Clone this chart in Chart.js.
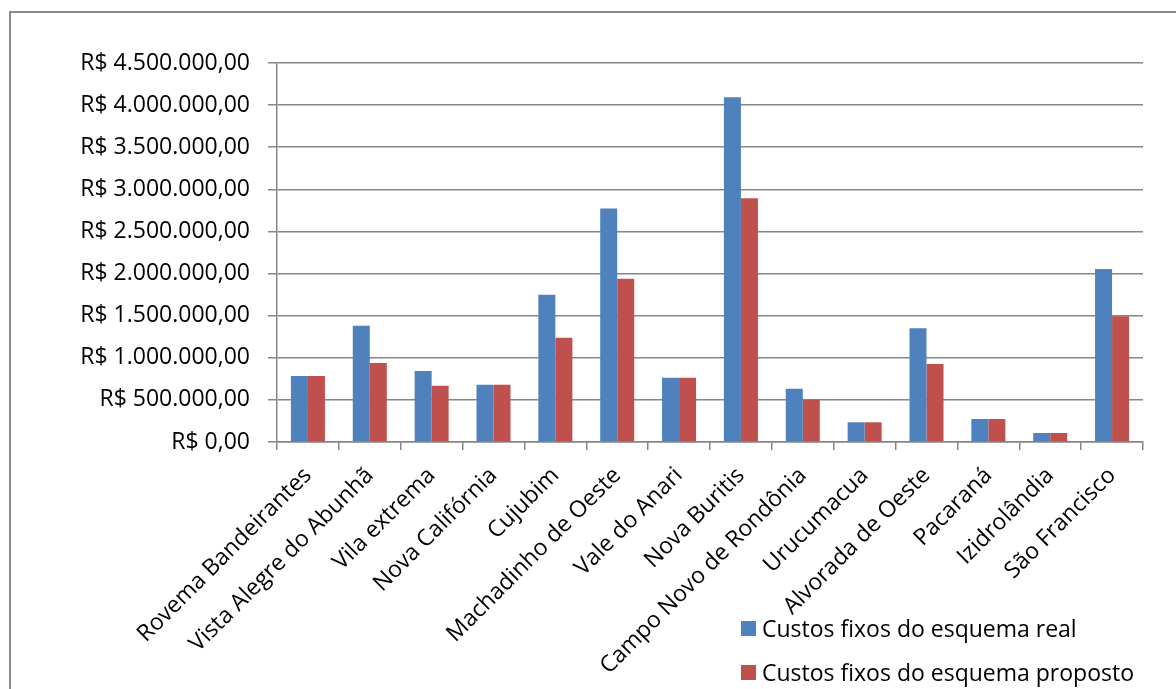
<!DOCTYPE html>
<html lang="pt-BR">
<head>
<meta charset="utf-8">
<title>Custos fixos por município</title>
<script src="https://cdn.jsdelivr.net/npm/chart.js@4/dist/chart.umd.min.js"></script>
<style>
  html, body { margin: 0; padding: 0; background: #fff; }
  #wrap { position: relative; width: 1176px; height: 689px; overflow: hidden; }
  #frame { position: absolute; left: 9px; top: 11px; width: 1300px; height: 800px;
           border-left: 2px solid #8a8a8a; border-top: 2px solid #8a8a8a; }
  #chart { position: absolute; left: 0; top: 0; }
  #legend { position: absolute; left: 741px; top: 606px; font-family: "Open Sans", sans-serif;
            font-size: 23px; color: #000; }
  .item { display: flex; align-items: center; height: 44px; white-space: nowrap; }
  .swatch { width: 15px; height: 15px; margin-right: 6px; flex: none; }
</style>
</head>
<body>
<div id="wrap">
  <div id="frame"></div>
  <canvas id="chart" width="1176" height="689"></canvas>
  <div id="legend"></div>
</div>
<script>
// Municípios
const categories = [
  "Rovema Bandeirantes", "Vista Alegre do Abunhã", "Vila extrema", "Nova Califórnia",
  "Cujubim", "Machadinho de Oeste", "Vale do Anari", "Nova Buritis",
  "Campo Novo de Rondônia", "Urucumacua", "Alvorada de Oeste", "Pacaraná",
  "Izidrolândia", "São Francisco"
];

// Custos fixos (R$)
const custosReal = [
  783000, 1381000, 843000, 681000, 1749000, 2771000, 764000,
  4094000, 633000, 234000, 1350000, 273000, 107000, 2055000
];
const custosProposto = [
  783000, 938000, 669000, 681000, 1239000, 1939000, 764000,
  2894000, 502000, 234000, 926000, 273000, 107000, 1493000
];

const seriesNames = ["Custos fixos do esquema real", "Custos fixos do esquema proposto"];
const seriesColors = ["#4F81BD", "#C0504D"];

// Valores do eixo vertical
const yTickValues = [0, 500000, 1000000, 1500000, 2000000, 2500000, 3000000, 3500000, 4000000, 4500000];

function formatBRL(v) {
  const fixed = Math.abs(v).toFixed(2);
  const [intPart, dec] = fixed.split(".");
  const grouped = intPart.replace(/\B(?=(\d{3})+(?!\d))/g, ".");
  return "R$ " + (v < 0 ? "-" : "") + grouped + "," + dec;
}

const FONT = "'Open Sans', sans-serif";
const FONT_SIZE = 23;
const GRID = "#868686";

new Chart(document.getElementById("chart"), {
  type: "bar",
  data: {
    labels: categories,
    datasets: [
      { label: seriesNames[0], data: custosReal, backgroundColor: seriesColors[0],
        categoryPercentage: 0.55, barPercentage: 1.0 },
      { label: seriesNames[1], data: custosProposto, backgroundColor: seriesColors[1],
        categoryPercentage: 0.55, barPercentage: 1.0 }
    ]
  },
  options: {
    responsive: false,
    animation: false,
    layout: { padding: { left: 0, top: 63, right: 33, bottom: 0 } },
    plugins: {
      legend: { display: false },
      tooltip: { enabled: false }
    },
    scales: {
      x: {
        grid: { display: true, drawOnChartArea: false, drawTicks: true, tickLength: 8,
                color: GRID, lineWidth: 1.5, offset: true },
        border: { display: true, color: GRID, width: 1.5 },
        ticks: { color: "#000", font: { family: FONT, size: FONT_SIZE }, minRotation: 45,
                 maxRotation: 45, autoSkip: false, padding: 12 },
        afterFit(scale) { scale.height = 247; }
      },
      y: {
        min: 0, max: 4500000,
        afterBuildTicks(scale) { scale.ticks = yTickValues.map(v => ({ value: v })); },
        grid: { color: GRID, lineWidth: 1.5, drawTicks: true, tickLength: 9 },
        border: { display: true, color: GRID, width: 1.5 },
        ticks: { color: "#000", font: { family: FONT, size: FONT_SIZE }, padding: 18,
                 callback: v => formatBRL(v) },
        afterFit(scale) { scale.width = 277; }
      }
    }
  }
});

// Legenda
const legendEl = document.getElementById("legend");
seriesNames.forEach((name, i) => {
  const item = document.createElement("div");
  item.className = "item";
  const sw = document.createElement("span");
  sw.className = "swatch";
  sw.style.background = seriesColors[i];
  const txt = document.createElement("span");
  txt.textContent = name;
  item.appendChild(sw);
  item.appendChild(txt);
  legendEl.appendChild(item);
});
</script>
</body>
</html>
